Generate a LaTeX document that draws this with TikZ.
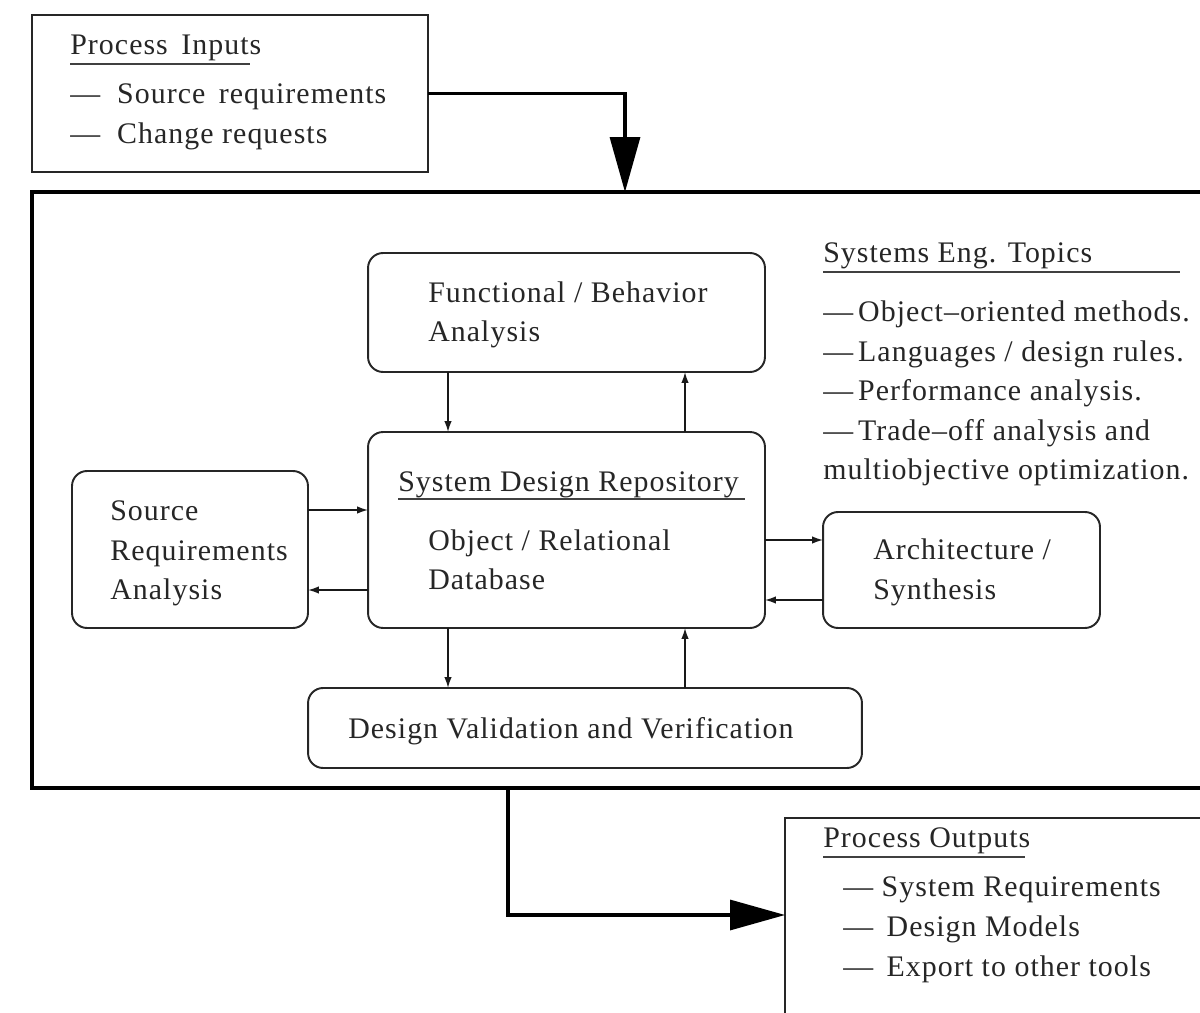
\documentclass[tikz,border=0pt]{standalone}
\usepackage{fontspec}
\setmainfont{Liberation Serif}[LetterSpace=3.5]
\usetikzlibrary{arrows.meta}
\begin{document}
\begin{tikzpicture}[x=0.02cm,y=-0.02cm,
  rbox/.style={draw=black!85,line width=1.1pt,rounded corners=0.3cm,outer sep=0pt,inner sep=0pt},
  sbox/.style={draw=black!85,line width=1.1pt,outer sep=0pt,inner sep=0pt},
  bigbox/.style={draw=black,line width=2.4pt,outer sep=0pt,inner sep=0pt},
  txt/.style={anchor=west,inner sep=0pt,yshift=-1.6pt,text height=12pt,text depth=3.5pt,font=\fontsize{17}{20}\selectfont,text=black!85},
  uline/.style={draw=black!75,line width=1.1pt},
  sarrow/.style={draw=black!90,line width=0.9pt,-{Latex[length=0.22cm,width=0.15cm]}},
  bigarrow/.style={draw=black,line width=1.8pt,-{Triangle[length=1.1cm,width=0.6cm]}}]
\clip (0,0) rectangle (1200,1013);
\fill[white] (0,0) rectangle (1200,1013);

% boxes
\node[sbox,minimum width=7.92cm,minimum height=3.14cm] (inputs) at (230,93.5) {};
\node[bigbox,minimum width=23.96cm,minimum height=11.92cm] (main) at (631,490) {};
\node[rbox,minimum width=7.94cm,minimum height=2.38cm] (func) at (566.5,312.5) {};
\node[rbox,minimum width=7.94cm,minimum height=3.92cm] (sdr) at (566.5,530) {};
\node[rbox,minimum width=4.72cm,minimum height=3.14cm] (src) at (190,549.5) {};
\node[rbox,minimum width=5.54cm,minimum height=2.32cm] (arch) at (961.5,570) {};
\node[rbox,minimum width=11.08cm,minimum height=1.6cm] (dvv) at (585,728) {};
\node[sbox,minimum width=8.9cm,minimum height=4.64cm] (outputs) at (1007.5,934) {};

% texts: Process Inputs
\node[txt] (pin) at (70,44) {Process \,Inputs};
\draw[uline] (70,64) -- (250,64);
\node[txt] (pin1) at (70,93) {— \ Source \,requirements};
\node[txt] (pin2) at (70,133) {— \ Change requests};

% Functional
\node[txt] (f1) at (428,292) {Functional / Behavior};
\node[txt] (f2) at (428,331) {Analysis};

% SDR
\node[txt] (s0) at (398,481) {System Design Repository};
\draw[uline] (398,499) -- (745,499);
\node[txt] (s1) at (428,540) {Object / Relational};
\node[txt] (s2) at (428,579) {Database};

% Source
\node[txt] (r1) at (110,510) {Source};
\node[txt] (r2) at (110,550) {Requirements};
\node[txt] (r3) at (110,589) {Analysis};

% Architecture
\node[txt] (a1) at (873,549) {Architecture /};
\node[txt] (a2) at (873,589) {Synthesis};

% DVV
\node[txt] (d1) at (348,728) {Design Validation and Verification};

% Systems Eng Topics
\node[txt] (t0) at (823,252) {Systems Eng. Topics};
\draw[uline] (823,272) -- (1180,272);
\node[txt] (t1) at (823,311) {—\,Object–oriented methods.};
\node[txt] (t2) at (823,351) {—\,Languages / design rules.};
\node[txt] (t3) at (823,390) {—\,Performance analysis.};
\node[txt] (t4) at (823,430) {—\,Trade–off analysis and};
\node[txt] (t5) at (823,469) {multiobjective optimization.};

% Process Outputs
\node[txt] (po) at (823,837) {Process Outputs};
\draw[uline] (823,857) -- (1025,857);
\node[txt] (po1) at (843,886) {— System Requirements};
\node[txt] (po2) at (843,926) {— \,Design Models};
\node[txt] (po3) at (843,966) {— \,Export to other tools};

% helper coordinates
\coordinate (xl) at (448,0);
\coordinate (xr) at (685,0);
\coordinate (ya) at (0,510);
\coordinate (yb) at (0,590);
\coordinate (yc) at (0,540);
\coordinate (yd) at (0,600);
\coordinate (xin) at (625,0);
\coordinate (xout) at (508,0);
\coordinate (yout) at (0,915);

% small connectors
\draw[sarrow] (func.south -| xl) -- (sdr.north -| xl);
\draw[sarrow] (sdr.north -| xr) -- (func.south -| xr);
\draw[sarrow] (src.east |- ya) -- (sdr.west |- ya);
\draw[sarrow] (sdr.west |- yb) -- (src.east |- yb);
\draw[sarrow] (sdr.east |- yc) -- (arch.west |- yc);
\draw[sarrow] (arch.west |- yd) -- (sdr.east |- yd);
\draw[sarrow] (sdr.south -| xl) -- (dvv.north -| xl);
\draw[sarrow] (dvv.north -| xr) -- (sdr.south -| xr);

% big connectors
\draw[bigarrow] (inputs.east) -| (main.north -| xin);
\draw[bigarrow] (main.south -| xout) |- (outputs.west |- yout);
\end{tikzpicture}
\end{document}
